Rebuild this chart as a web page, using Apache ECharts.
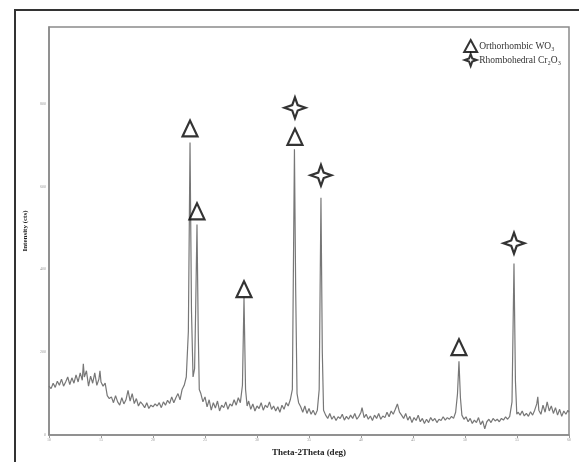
<!DOCTYPE html>
<html><head><meta charset="utf-8">
<script src="https://cdn.jsdelivr.net/npm/echarts@6/dist/echarts.min.js"></script>
<style>html,body{margin:0;padding:0;background:#fff}#c{width:579px;height:462px}</style>
</head><body><div id="c"></div>
<script>
const twoTheta = [10.0,10.2,10.4,10.6,10.8,11.0,11.2,11.4,11.6,11.8,12.0,12.2,12.4,12.6,12.8,13.0,13.2,13.3,13.4,13.6,13.8,14.0,14.2,14.4,14.6,14.8,14.9,15.0,15.2,15.4,15.6,15.8,16.0,16.2,16.4,16.6,16.8,17.0,17.2,17.4,17.6,17.8,18.0,18.2,18.4,18.6,18.8,19.0,19.2,19.4,19.6,19.8,20.0,20.2,20.4,20.6,20.8,21.0,21.2,21.4,21.6,21.8,22.0,22.2,22.4,22.6,22.8,23.0,23.2,23.4,23.56,23.7,23.85,24.0,24.1,24.23,24.35,24.45,24.6,24.8,25.0,25.2,25.4,25.6,25.8,26.0,26.2,26.4,26.6,26.8,27.0,27.2,27.4,27.6,27.8,28.0,28.2,28.4,28.6,28.75,28.9,29.05,29.2,29.4,29.6,29.8,30.0,30.2,30.4,30.6,30.8,31.0,31.2,31.4,31.6,31.8,32.0,32.2,32.4,32.6,32.8,33.0,33.2,33.4,33.6,33.72,33.85,34.0,34.2,34.4,34.6,34.8,35.0,35.2,35.4,35.6,35.8,35.98,36.15,36.28,36.4,36.6,36.8,37.0,37.2,37.4,37.6,37.8,38.0,38.2,38.4,38.6,38.8,39.0,39.2,39.4,39.6,39.8,40.0,40.1,40.3,40.5,40.7,40.9,41.1,41.3,41.5,41.7,41.9,42.1,42.3,42.5,42.7,42.9,43.1,43.3,43.5,43.7,43.9,44.1,44.3,44.5,44.7,44.9,45.1,45.3,45.5,45.7,45.9,46.1,46.3,46.5,46.7,46.9,47.1,47.3,47.5,47.7,47.9,48.1,48.3,48.5,48.7,48.9,49.1,49.28,49.42,49.56,49.7,49.9,50.1,50.3,50.5,50.7,50.9,51.1,51.3,51.5,51.7,51.9,52.1,52.3,52.5,52.7,52.9,53.1,53.3,53.5,53.7,53.9,54.1,54.3,54.52,54.71,54.85,54.98,55.1,55.3,55.5,55.7,55.9,56.1,56.3,56.5,56.7,56.9,57.0,57.1,57.3,57.5,57.7,57.9,58.1,58.3,58.5,58.7,58.9,59.1,59.3,59.5,59.7,59.9,60.0];
const counts = [118,112,125,115,130,120,135,118,128,140,122,138,125,145,128,150,132,172,140,155,118,142,125,150,120,135,155,128,118,125,95,88,92,78,95,80,72,90,75,85,108,82,100,76,88,70,80,74,66,78,64,72,68,75,70,78,66,80,72,84,76,92,78,90,100,85,110,120,140,250,706,300,140,160,300,508,250,110,100,80,92,68,85,60,78,65,82,58,72,66,80,62,75,70,85,72,90,78,120,332,110,70,82,62,75,58,70,64,78,60,72,66,80,62,70,58,68,55,72,62,78,70,85,110,690,350,100,78,68,55,70,52,64,50,60,48,60,110,573,200,60,48,40,52,38,46,35,44,40,50,36,45,38,48,40,52,38,45,55,66,42,50,38,46,35,48,40,52,38,46,42,55,44,58,50,62,75,55,48,40,52,36,45,30,42,35,48,32,40,28,38,30,42,34,40,30,38,35,44,36,42,38,45,40,55,100,178,90,48,38,44,32,40,28,36,30,42,25,34,15,32,38,30,40,34,38,32,40,36,44,38,45,80,414,130,50,55,48,58,46,52,45,56,48,60,75,92,60,50,72,55,80,58,70,52,66,48,62,45,58,50,60,55];
const wo3Marks = [[23.56,740],[24.23,540],[28.75,352],[33.65,720],[49.42,212]];
const cr2o3Marks = [[33.65,790],[36.15,627],[54.71,463]];
const xTicks = [10,15,20,25,30,35,40,45,50,55,60];
const yTicks = [0,200,400,600,800];

const starPath = 'path://M0,-10 L2.6,-2.6 L10,0 L2.6,2.6 L0,10 L-2.6,2.6 L-10,0 L-2.6,-2.6 Z';
const font = 'Liberation Serif';
const chart = echarts.init(document.getElementById('c'), null, {renderer:'canvas'});
chart.setOption({
  animation:false,
  backgroundColor:'#fff',
  graphic:[{type:'rect', shape:{x:15,y:10,width:600,height:500}, style:{fill:'none', stroke:'#333', lineWidth:2}, silent:true}],
  grid:{left:49, right:10, top:27, bottom:26, show:true, borderColor:'#8a8a8a', borderWidth:1.5},
  legend:{
    orient:'vertical', right:13, top:34, itemGap:0, itemWidth:13, itemHeight:12,
    textStyle:{fontFamily:font, fontSize:9.5, color:'#333', padding:[0,0,0,-3]},
    data:['Orthorhombic WO₃','Rhombohedral Cr₂O₃']
  },
  xAxis:{type:'value', min:xTicks[0], max:xTicks[xTicks.length-1], interval:5,
    name:'Theta-2Theta (deg)', nameLocation:'middle', nameGap:13,
    nameTextStyle:{fontFamily:font, fontWeight:'bold', fontSize:9, color:'#222'},
    axisLine:{lineStyle:{color:'#8a8a8a', width:1.5}},
    axisTick:{length:3, lineStyle:{color:'#999'}},
    axisLabel:{fontSize:4, color:'#999', margin:3, fontFamily:font},
    splitLine:{show:false}},
  yAxis:{type:'value', min:0, max:985, interval:200,
    name:'Intensity (cts)', nameLocation:'middle', nameGap:19,
    nameTextStyle:{fontFamily:font, fontWeight:'bold', fontSize:7, color:'#222'},
    axisLine:{show:true, lineStyle:{color:'#8a8a8a', width:1.5}},
    axisTick:{show:false},
    axisLabel:{fontSize:4, color:'#999', margin:3, fontFamily:font, showMaxLabel:false},
    splitLine:{show:false}},
  series:[
    {type:'line', data:twoTheta.map((t,i)=>[t,counts[i]]), symbol:'none', lineStyle:{color:'#777', width:1.2}, z:2},
    {name:'Orthorhombic WO₃', type:'scatter', data:wo3Marks, symbol:'triangle', symbolSize:[15,16],
      itemStyle:{color:'#fff', borderColor:'#000', borderWidth:2.2}, z:5},
    {name:'Rhombohedral Cr₂O₃', type:'scatter', data:cr2o3Marks, symbol:starPath, symbolSize:[21,21],
      itemStyle:{color:'#fff', borderColor:'#000', borderWidth:2.2}, z:5}
  ]
});
</script></body></html>
